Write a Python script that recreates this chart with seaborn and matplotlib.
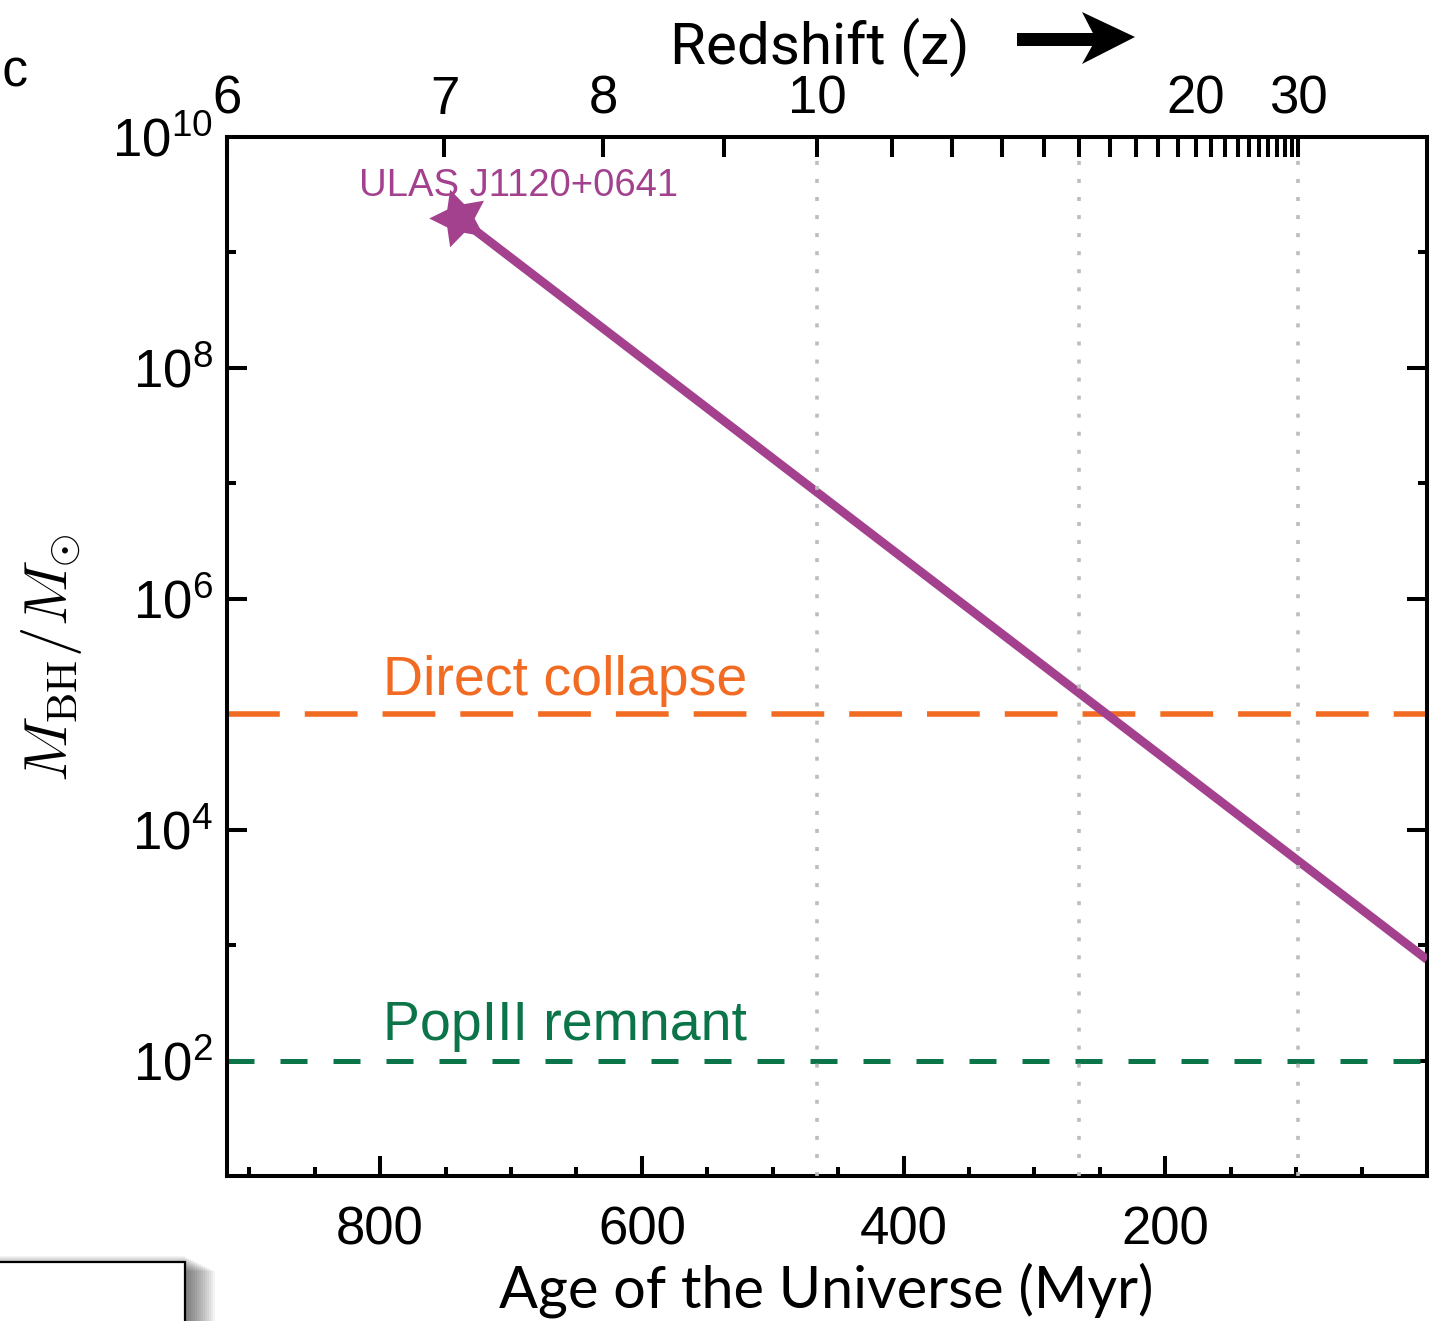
import numpy as np
import pandas as pd
import matplotlib
matplotlib.use("Agg")
import matplotlib.pyplot as plt
from matplotlib.patches import Rectangle, Polygon
from matplotlib.ticker import FixedLocator, FuncFormatter, NullFormatter
import seaborn as sns

# --- datos ---
quasar_name = "ULAS J1120+0641"
quasar_age = [740.0]          # Myr
quasar_mass = [2.0e9]         # M_sun

growth_age = [740.0, 0.0]     # Myr, crecimiento Eddington hacia atras
growth_mass = [2.0e9, 7.5e2]

seed_direct = 1e5
seed_popiii = 1e2

z_ticks = list(range(6, 31))
z_labels = [6, 7, 8, 10, 20, 30]
z_dotted = [10, 15, 30]

age_major = [800, 600, 400, 200]
age_minor = [900, 850, 750, 700, 650, 550, 500, 450, 350, 300, 250, 150, 100, 50]
mass_major = [1e2, 1e4, 1e6, 1e8, 1e10]
mass_minor = [1e3, 1e5, 1e7, 1e9]

PURPLE = "#A3418F"
ORANGE = "#F26B22"
GREEN = "#0B7448"
GREY = "#BDBDBD"


def age_of_z(z, h0=70.0, om=0.3, ol=0.7):
    # edad del universo (Myr) para un LCDM plano
    th = 977.8 / h0 * 1e3
    z = np.asarray(z, dtype=float)
    return 2.0 / (3.0 * np.sqrt(ol)) * th * np.arcsinh(np.sqrt(ol / om) * (1 + z) ** -1.5)


sns.set_theme(style="ticks")
plt.rcParams["font.family"] = ["Liberation Sans", "DejaVu Sans"]
plt.rcParams["mathtext.fontset"] = "cm"
for k in ["text.color", "axes.labelcolor", "xtick.color", "ytick.color", "axes.edgecolor"]:
    plt.rcParams[k] = "black"

W, H = 1441, 1321
fig = plt.figure(figsize=(W / 100, H / 100), dpi=100)
ax = fig.add_axes([227 / W, 1 - 1176 / H, 1200 / W, 1039 / H])

ax.set_yscale("log")
x_left = float(age_of_z(6))
ax.set_xlim(x_left, 0)
ax.set_ylim(1e1, 1e10)

df_growth = pd.DataFrame({"age": growth_age, "mass": growth_mass})
sns.lineplot(data=df_growth, x="age", y="mass", ax=ax, color=PURPLE, lw=6.3,
             sort=False, zorder=3, solid_capstyle="butt")
sns.scatterplot(x=quasar_age, y=quasar_mass, ax=ax, color=PURPLE, marker=(5, 1, 18),
                s=1900, linewidth=0, zorder=4)
ax.set_xlabel("")
ax.set_ylabel("")

ax.axhline(seed_direct, color=ORANGE, lw=4.0, ls=(0, (9.5, 4.5)), zorder=2)
ax.axhline(seed_popiii, color=GREEN, lw=3.6, ls=(0, (5.4, 5.2)), zorder=2)

for z in z_dotted:
    ax.axvline(float(age_of_z(z)), color=GREY, lw=2.6, ls=(0, (1.1, 3.9)), zorder=6)

ax.text(quasar_age[0] - 46, 3.8e9, quasar_name, color=PURPLE, fontsize=27.5,
        ha="center", va="center")
ax.text(798, 10 ** 5.17, "Direct collapse", color=ORANGE, fontsize=40,
        ha="left", va="baseline")
ax.text(798, 10 ** 2.18, "PopIII remnant", color=GREEN, fontsize=40,
        ha="left", va="baseline")

# ejes y ticks
ax.xaxis.set_major_locator(FixedLocator(age_major))
ax.xaxis.set_minor_locator(FixedLocator(age_minor))
ax.xaxis.set_major_formatter(FuncFormatter(lambda v, p: f"{int(v)}"))
ax.yaxis.set_major_locator(FixedLocator(mass_major))
ax.yaxis.set_minor_locator(FixedLocator(mass_minor))
ax.yaxis.set_minor_formatter(NullFormatter())
ax.yaxis.set_major_formatter(FuncFormatter(
    lambda v, p: r"$\mathregular{10^{%d}}$" % int(round(np.log10(v)))))

for s in ax.spines.values():
    s.set_linewidth(2.9)
    s.set_color("black")
ax.tick_params(which="both", direction="in", width=2.9, color="black",
               top=False, right=True, labelsize=38, labelcolor="black")
ax.tick_params(which="major", length=14.4)
ax.tick_params(which="minor", length=6.5)
ax.tick_params(axis="x", which="major", pad=21)
ax.tick_params(axis="y", which="major", pad=10)

ax2 = ax.twiny()
ax2.set_xlim(ax.get_xlim())
ax2.set_xticks(age_of_z(z_ticks))
ax2.set_xticklabels([str(z) if z in z_labels else "" for z in z_ticks])
ax2.tick_params(axis="x", direction="in", length=14.4, width=2.9, labelsize=38,
                pad=9, color="black", labelcolor="black")
for s in ax2.spines.values():
    s.set_visible(False)

# textos de la figura
fig.text(52 / W, 1 - 658 / H, r"$M_{\rm BH}/M_{\odot}$", rotation=90,
         ha="center", va="center", fontsize=44)
fig.text(826 / W, 1 - 1290 / H, "Age of the Universe (Myr)", ha="center", va="center",
         fontsize=41.5, family=["Lato", "DejaVu Sans"])
fig.text(820 / W, 1 - 47 / H, "Redshift (z)", ha="center", va="center",
         fontsize=42, family=["Roboto", "DejaVu Sans"], fontweight="normal")
fig.text(29 / W, 1 - 72 / H, "ic", ha="right", va="center", fontsize=37)

# flecha hacia mayor redshift
def px(x, y):
    return (x / W, 1 - y / H)

fig.patches.append(Polygon([px(1017, 33), px(1098, 33), px(1098, 46), px(1017, 46)],
                           closed=True, transform=fig.transFigure,
                           facecolor="black", edgecolor="none"))
fig.patches.append(Polygon([px(1082, 12), px(1135, 37), px(1082, 64), px(1096, 39)],
                           closed=True, transform=fig.transFigure,
                           facecolor="black", edgecolor="none"))

# recuadro cortado abajo a la izquierda, con sombra
for i in range(16):
    fig.patches.append(Rectangle(px(-20 + i * 2, 1400), 205 / W, (1400 - 1262 + 6 - i) / H,
                                 transform=fig.transFigure, facecolor="black",
                                 edgecolor="none", alpha=0.045, zorder=1))
fig.patches.append(Rectangle(px(-20, 1400), 205 / W, (1400 - 1262) / H,
                             transform=fig.transFigure, facecolor="white",
                             edgecolor="black", lw=1.6, zorder=2))

fig.savefig("out.png", dpi=100)
